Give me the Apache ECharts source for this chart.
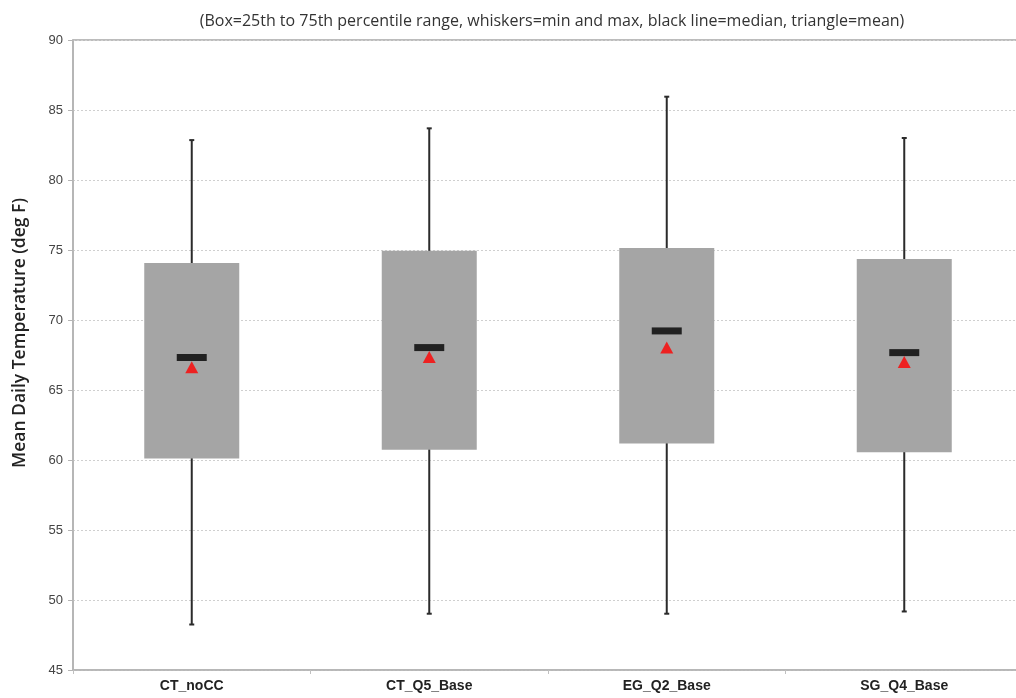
<!DOCTYPE html>
<html>
<head>
<meta charset="utf-8">
<script src="https://cdn.jsdelivr.net/npm/echarts@6/dist/echarts.min.js"></script>
<style>
html,body{margin:0;padding:0;background:#fff;}
#chart{width:1016px;height:698px;}
</style>
</head>
<body>
<div id="chart"></div>
<script>
const categories = ['CT_noCC', 'CT_Q5_Base', 'EG_Q2_Base', 'SG_Q4_Base'];
const minVals    = [48.25, 49.02, 49.02, 49.18];
const q1Vals     = [60.10, 60.74, 61.17, 60.55];
const medianVals = [67.32, 68.03, 69.22, 67.67];
const q3Vals     = [74.08, 74.94, 75.15, 74.35];
const maxVals    = [82.85, 83.69, 85.95, 83.00];
const meanVals   = [66.63, 67.36, 68.03, 67.00];
const yMin = 45, yMax = 90, yStep = 5;

const boxData = categories.map((c, i) => [i, minVals[i], q1Vals[i], q3Vals[i], maxVals[i]]);

const chart = echarts.init(document.getElementById('chart'));
chart.setOption({
  backgroundColor: '#ffffff',
  animation: false,
  title: {
    text: '(Box=25th to 75th percentile range, whiskers=min and max, black line=median, triangle=mean)',
    left: 547, top: 8, textAlign: 'center',
    textStyle: { fontFamily: '"Open Sans", sans-serif', fontSize: 16, fontWeight: 'normal', color: '#333' }
  },
  grid: {
    left: 73, top: 40, width: 950, height: 630,
    outerBoundsMode: 'none',
    show: true, borderColor: '#a6a6a6', borderWidth: 1.5, backgroundColor: 'transparent'
  },
  xAxis: {
    type: 'category',
    data: categories,
    boundaryGap: true,
    axisLine: { lineStyle: { color: '#b5b5b5', width: 1.5 } },
    axisTick: { show: true, length: 4, lineStyle: { color: '#c0c0c0' } },
    axisLabel: { margin: 9, fontFamily: 'Liberation Sans, Arial, sans-serif', fontSize: 14, fontWeight: 'bold', color: '#222' },
    splitLine: { show: false }
  },
  yAxis: {
    type: 'value',
    min: yMin, max: yMax, interval: yStep,
    name: 'Mean Daily Temperature (deg F)',
    nameLocation: 'middle', nameGap: 44,
    nameTextStyle: { fontFamily: '"Open Sans", sans-serif', fontSize: 17.5, fontWeight: 600, color: '#222', padding: [0, 0, 0, 44] },
    axisLine: { show: true, lineStyle: { color: '#b5b5b5', width: 1.5 } },
    axisTick: { show: true, length: 5, lineStyle: { color: '#b5b5b5' } },
    axisLabel: { margin: 10, fontFamily: 'Liberation Sans, Arial, sans-serif', fontSize: 13, color: '#444' },
    splitLine: { show: true, lineStyle: { color: '#cfcfcf', type: [2, 2], width: 1 } }
  },
  series: [
    {
      type: 'custom',
      name: 'box',
      data: boxData,
      encode: { x: 0, y: [1, 2, 3, 4] },
      renderItem: function (params, api) {
        const i = api.value(0);
        const pMin = api.coord([i, api.value(1)]);
        const pQ1 = api.coord([i, api.value(2)]);
        const pQ3 = api.coord([i, api.value(3)]);
        const pMax = api.coord([i, api.value(4)]);
        const band = api.size([1, 0])[0];
        const boxW = band * 0.4;
        const capW = 5;
        const x = pQ1[0];
        const lineStyle = { stroke: '#2b2b2b', lineWidth: 2 };
        return {
          type: 'group',
          children: [
            { type: 'line', shape: { x1: x, y1: pMax[1], x2: x, y2: pMin[1] }, style: lineStyle },
            { type: 'line', shape: { x1: x - capW / 2, y1: pMax[1], x2: x + capW / 2, y2: pMax[1] }, style: lineStyle },
            { type: 'line', shape: { x1: x - capW / 2, y1: pMin[1], x2: x + capW / 2, y2: pMin[1] }, style: lineStyle },
            { type: 'rect', shape: { x: x - boxW / 2, y: pQ3[1], width: boxW, height: pQ1[1] - pQ3[1] }, style: { fill: '#a5a5a5' } }
          ]
        };
      },
      z: 2
    },
    {
      type: 'scatter',
      name: 'median',
      data: medianVals,
      symbol: 'rect',
      symbolSize: [30, 7],
      itemStyle: { color: '#000000' },
      z: 3
    },
    {
      type: 'scatter',
      name: 'mean',
      data: meanVals,
      symbol: 'triangle',
      symbolSize: [13, 12],
      itemStyle: { color: '#ff0000' },
      z: 4
    }
  ]
});
</script>
</body>
</html>
